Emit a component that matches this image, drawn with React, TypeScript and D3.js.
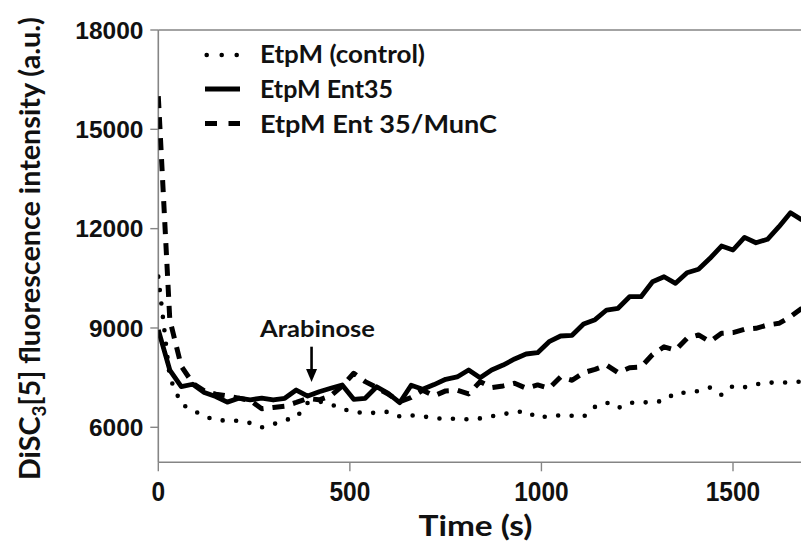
import React from "react";
import * as d3 from "d3";

const times = [0,30,60,90,120,150,180,210,240,270,300,330,360,390,420,450,480,510,540,570,600,630,660,690,720,750,780,810,840,870,900,930,960,990,1020,1050,1080,1110,1140,1170,1200,1230,1260,1290,1320,1350,1380,1410,1440,1470,1500,1530,1560,1590,1620,1650,1680];

const control = [10550,7500,6700,6520,6330,6220,6200,6200,6130,6000,6090,6220,6290,6740,6780,6700,6550,6470,6430,6440,6470,6330,6360,6330,6280,6250,6260,6240,6270,6330,6400,6450,6490,6280,6340,6360,6350,6320,6620,6750,6580,6740,6750,6760,6800,7045,7045,7096,7200,6980,7250,7210,7300,7350,7350,7360,7380];

const ent35 = [8940,7730,7226,7300,7050,6930,6760,6880,6830,6880,6825,6876,7126,6945,7075,7178,7277,6845,6876,7226,7027,6743,7270,7150,7290,7450,7520,7730,7498,7730,7881,8063,8214,8253,8585,8757,8778,9120,9250,9542,9595,9944,9944,10397,10548,10349,10669,10772,11104,11475,11355,11738,11575,11678,12058,12481,12260];

const ent35MunC = [16000,9250,7850,7330,7100,7000,6950,6880,6810,6560,6600,6640,6750,6870,6830,6950,7250,7631,7380,7200,7000,6773,6900,7120,6950,7100,7120,7010,7380,7200,7250,7330,7180,7280,7180,7520,7420,7650,7750,7880,7650,7800,7820,8200,8430,8330,8690,8790,8585,8840,8860,8960,8990,9090,9140,9340,9600];

const xTicks = [0, 500, 1000, 1500];
const yTicks = [6000, 9000, 12000, 15000, 18000];
const legendLabels = ["EtpM (control)", "EtpM Ent35", "EtpM Ent 35/MunC"];
const annotation = "Arabinose";
const arabinoseTime = 400;

const W = 801, H = 547;
const axisColor = "#858585";
const labelFont = "Lato, 'Open Sans', sans-serif";

export default function App() {
  const x = d3.scaleLinear().domain([0, 1500]).range([158.3, 733]);
  const y = d3.scaleLinear().domain([6000, 18000]).range([427.3, 30]);
  const plotLeft = x(0), plotRight = W, plotTop = y(18000), plotBottom = 462.3;

  const line = d3.line<number>().x((_, i) => x(times[i])).y((d) => y(d));

  const series = [
    { data: control, dash: "0 13.5", width: 4.6, cap: "round" },
    { data: ent35, dash: "none", width: 4.8, cap: "butt" },
    { data: ent35MunC, dash: "12 9", width: 5, cap: "butt" },
  ];

  const legendY = [55, 89, 123.5];
  const legendBase = [63.3, 98.3, 133.3];
  const legendLen = [165, 133, 237];

  const arrowX = x(arabinoseTime);

  return (
    <svg width={W} height={H} style={{ position: "absolute", left: 0, top: 0, background: "#fff" }}>
      <rect x={0} y={0} width={W} height={H} fill="#fff" />
      <defs>
        <clipPath id="plot">
          <rect x={plotLeft} y={0} width={plotRight - plotLeft} height={plotBottom} />
        </clipPath>
      </defs>
      <line x1={plotLeft} x2={plotRight} y1={plotTop} y2={plotTop} stroke={axisColor} strokeWidth={1.6} />
      <line x1={plotLeft} x2={plotLeft} y1={plotTop} y2={plotBottom} stroke={axisColor} strokeWidth={1.6} />
      <line x1={plotLeft} x2={plotRight} y1={plotBottom} y2={plotBottom} stroke={axisColor} strokeWidth={1.6} />
      {yTicks.map((t) => (
        <g key={t}>
          <line x1={plotLeft - 8} x2={plotLeft} y1={y(t)} y2={y(t)} stroke={axisColor} strokeWidth={1.4} />
          <text x={143.5} y={y(t)} dy="0.36em" textAnchor="end" fontFamily="'Liberation Sans', Arial, sans-serif" fontWeight="bold" fontSize={24.5} fill="#111">{t}</text>
        </g>
      ))}
      {xTicks.map((t) => (
        <g key={t}>
          <line x1={x(t)} x2={x(t)} y1={plotBottom} y2={plotBottom + 9} stroke={axisColor} strokeWidth={1.4} />
          <text x={x(t)} y={501.5} textAnchor="middle" fontFamily="'Liberation Sans', Arial, sans-serif" fontWeight="bold" fontSize={24.5} fill="#111" transform={`translate(0 ${501.5}) scale(1 1.15) translate(0 ${-501.5})`}>{t}</text>
        </g>
      ))}
      <text x={475.5} y={536} textAnchor="middle" fontFamily={labelFont} fontWeight="bold" fontSize={28} fill="#111" textLength={114} lengthAdjust="spacingAndGlyphs">Time (s)</text>
      <text transform={`translate(40 248.5) rotate(-90)`} textAnchor="middle" fontFamily={labelFont} fontWeight="bold" fontSize={29} fill="#111" textLength={463} lengthAdjust="spacingAndGlyphs">
        DiSC<tspan fontSize={19} dy={6}>3</tspan><tspan dy={-6}>[5] fluorescence intensity (a.u.)</tspan>
      </text>
      <g clipPath="url(#plot)">
        {series.map((s, i) => (
          <path key={i} d={line(s.data) || ""} fill="none" stroke="#000" strokeWidth={s.width} strokeDasharray={s.dash} strokeLinecap={s.cap as any} strokeLinejoin="round" />
        ))}
      </g>
      {legendLabels.map((lab, i) => (
        <g key={lab}>
          <line x1={i === 0 ? 206.7 : 205} x2={i === 0 ? 237 : 240} y1={legendY[i]} y2={legendY[i]} stroke="#000" strokeWidth={series[i].width} strokeDasharray={i === 0 ? "0 15" : i === 2 ? "12 11.5" : "none"} strokeLinecap={series[i].cap as any} />
          <text x={260} y={legendBase[i]} fontFamily={labelFont} fontWeight="bold" fontSize={24} fill="#111" textLength={legendLen[i]} lengthAdjust="spacingAndGlyphs">{lab}</text>
        </g>
      ))}
      <text x={260} y={337.3} fontFamily={labelFont} fontWeight="bold" fontSize={22.5} fill="#111" textLength={115} lengthAdjust="spacingAndGlyphs">{annotation}</text>
      <line x1={arrowX} x2={arrowX} y1={346.7} y2={372} stroke="#000" strokeWidth={2.6} />
      <path d={`M${arrowX - 5.5},${369} L${arrowX + 5.5},${369} L${arrowX},${382} Z`} fill="#000" />
    </svg>
  );
}
